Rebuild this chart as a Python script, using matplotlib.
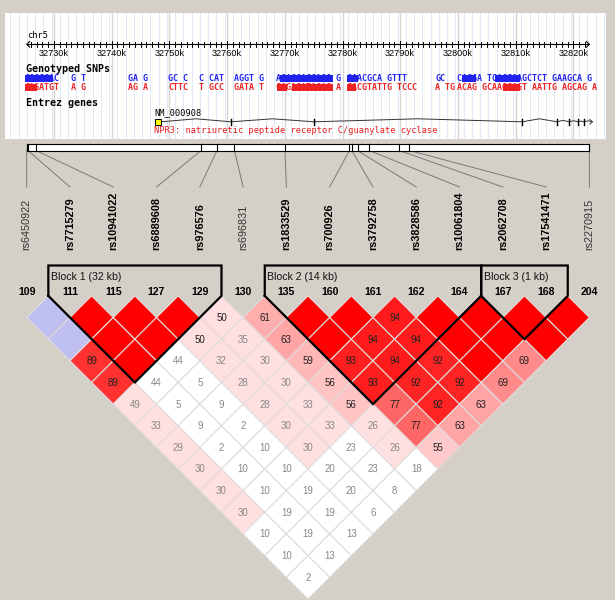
import matplotlib
matplotlib.use("Agg")
import matplotlib.pyplot as plt
from matplotlib.patches import Polygon, Rectangle

# ---------------- data ----------------
snp_names = ["rs6450922", "rs7715279", "rs10941022", "rs6889608", "rs976576",
             "rs696831", "rs1833529", "rs700926", "rs3792758", "rs3828586",
             "rs10061804", "rs2062708", "rs17541471", "rs2270915"]
snp_numbers = [109, 111, 115, 127, 129, 130, 135, 160, 161, 162, 164, 167, 168, 204]
snp_kb = [32725.27, 32725.49, 32726.88, 32755.48, 32758.25, 32761.28, 32770.03,
          32781.19, 32781.61, 32782.61, 32784.66, 32789.82, 32791.59, 32822.79]

# blocks as (first marker, last marker)
blocks = [(1, 4), (6, 10), (11, 12)]

# D' x100, row i holds pairs (i, i+1), (i, i+2), ...
dprime_rows = [
    [100, 100, 89, 89, 49, 33, 29, 30, 30, 30, 10, 10, 2],
    [100, 100, 100, 44, 5, 9, 2, 10, 10, 19, 19, 13],
    [100, 100, 44, 5, 9, 2, 10, 10, 19, 19, 13],
    [100, 50, 32, 28, 28, 30, 30, 20, 20, 6],
    [50, 35, 30, 30, 33, 33, 23, 23, 8],
    [61, 63, 59, 56, 56, 26, 26, 18],
    [100, 100, 93, 93, 77, 77, 55],
    [100, 94, 94, 92, 92, 63],
    [94, 94, 92, 92, 63],
    [100, 100, 100, 69],
    [100, 100, 69],
    [100, 100],
    [100],
]
# 1 = LOD >= 2
lod_rows = [
    [0, 0, 1, 1, 1, 1, 1, 1, 1, 1, 0, 0, 0],
    [1, 1, 1, 0, 0, 0, 0, 0, 0, 0, 0, 0],
    [1, 1, 0, 0, 0, 0, 0, 0, 0, 0, 0],
    [1, 1, 1, 1, 1, 1, 1, 0, 0, 0],
    [1, 1, 1, 1, 1, 1, 0, 0, 0],
    [1, 1, 1, 1, 1, 1, 1, 0],
    [1, 1, 1, 1, 1, 1, 1],
    [1, 1, 1, 1, 1, 1],
    [1, 1, 1, 1, 1],
    [1, 1, 1, 1],
    [1, 1, 1],
    [1, 1],
    [1],
]

# browser track
ruler_ticks_kb = [32730, 32740, 32750, 32760, 32770, 32780, 32790, 32800, 32810, 32820]
allele_top = [(32724.97, "GGCGGAC"), (32732.95, "G T"), (32742.82, "GA G"),
              (32749.76, "GC C"), (32755.13, "C CAT"), (32761.20, "AGGT G"),
              (32768.48, "AGACGACGAGG G"), (32780.78, "GAACGCA GTTT"),
              (32796.04, "GC"), (32799.85, "CAGGA TGACGAAGCTCT GAAGCA G")]
allele_bot = [(32724.97, "GAGATGT"), (32732.95, "A G"), (32742.82, "AG A"),
              (32749.76, "CTTC"), (32755.13, "T GCC"), (32761.20, "GATA T"),
              (32768.48, "CAGAGATAGAG A"), (32780.78, "GACGTATTG TCCC"),
              (32796.04, "A TG"), (32799.85, "ACAG GCAAGCAGT AATTG AGCAG A")]
hilite_top = [(32724.97, 32729.82), (32769.17, 32778.35), (32780.78, 32782.69),
              (32800.72, 32803.15), (32806.36, 32810.69)]
hilite_bot = [(32724.97, 32727.05), (32768.65, 32770.38), (32771.25, 32778.35),
              (32780.78, 32782.34), (32807.75, 32810.69)]
gene_start_kb, gene_utr_end_kb, gene_end_kb = 32747.5, 32748.54, 32823.3
exon_kb = [32760.68, 32775.07, 32811.11, 32817.18, 32819.26, 32820.82, 32821.86]

# ---------------- layout helpers ----------------
BG = "#d4d0c8"
X0, XN = 26.7, 589.4
DX = (XN - X0) / (len(snp_names) - 1)
H = DX / 2
Y1 = 317.5          # centre of first diamond row
BLOCK_TOP = 265.5


def xp(i):
    return X0 + i * DX


def kbpx(kb):
    return 111.7 + (kb - 32740) * 5.77


def cell_color(d, strong):
    d = d / 100.0
    if strong:
        if d < 0.5:
            return (1.0, 224 / 255, 224 / 255)
        g = min(223.0, max(0.0, 223 * 2 * (1 - d))) / 255
        return (1.0, g, g)
    if d > 0.99:
        return (192 / 255, 192 / 255, 240 / 255)
    return (1.0, 1.0, 1.0)


fig = plt.figure(figsize=(6.15, 6.0), dpi=100)
fig.patch.set_facecolor(BG)
ax = fig.add_axes([0, 0, 1, 1])
ax.set_xlim(0, 615)
ax.set_ylim(600, 0)
ax.axis("off")

SANS = ["Liberation Sans", "DejaVu Sans"]
MONO = ["DejaVu Sans Mono"]

# ---------------- browser panel ----------------
ax.add_patch(Rectangle((5, 13), 601, 125.5, facecolor="white", edgecolor="none", zorder=0))
k = 32721.0
while kbpx(k) < 606:
    if kbpx(k) > 5:
        ax.plot([kbpx(k)] * 2, [13, 138.5], color="#d9e6f8", lw=0.6, zorder=1)
    k += 10 / 7
for t in ruler_ticks_kb:
    ax.plot([kbpx(t)] * 2, [13, 138.5], color="#d6d6d6", lw=1.0, zorder=1)

ax.text(27, 35, "chr5", family=MONO, fontsize=6.3, va="center", ha="left", zorder=3)
r0, r1 = snp_kb[0], snp_kb[-1]
ax.plot([kbpx(r0), kbpx(r1)], [44.3, 44.3], color="black", lw=0.8, zorder=3)
ax.plot([kbpx(r0) + 3, kbpx(r0), kbpx(r0) + 3], [41.5, 44.3, 47.1], color="black", lw=0.8, zorder=3)
ax.plot([kbpx(r1) - 3, kbpx(r1), kbpx(r1) - 3], [41.5, 44.3, 47.1], color="black", lw=0.8, zorder=3)
for kk in range(int(r0) + 1, int(r1) + 1):
    big = kk % 10 == 0
    ax.plot([kbpx(kk)] * 2, [40.5 if big else 42.0, 48.3 if big else 46.6],
            color="black", lw=0.7, zorder=3)
for t in ruler_ticks_kb:
    ax.text(kbpx(t), 53, f"{t}k", family=SANS, fontsize=6.6, ha="center", va="center", zorder=3)

ax.text(25.5, 69, "Genotyped SNPs", family=MONO, fontweight="bold", fontsize=7.2,
        va="center", ha="left", zorder=3)
for (a, b) in hilite_top:
    ax.add_patch(Rectangle((kbpx(a), 75), kbpx(b) - kbpx(a), 7, facecolor="#2222ee",
                           edgecolor="none", zorder=2))
for (a, b) in hilite_bot:
    ax.add_patch(Rectangle((kbpx(a), 83.8), kbpx(b) - kbpx(a), 7, facecolor="#ee2222",
                           edgecolor="none", zorder=2))
for kb, s in allele_top:
    ax.text(kbpx(kb), 78.5, s, family=MONO, fontweight="bold", fontsize=6.0,
            color="#2222ee", ha="left", va="center", zorder=3)
for kb, s in allele_bot:
    ax.text(kbpx(kb), 87.3, s, family=MONO, fontweight="bold", fontsize=6.0,
            color="#ee2222", ha="left", va="center", zorder=3)

ax.text(25.5, 102.7, "Entrez genes", family=MONO, fontweight="bold", fontsize=7.2,
        va="center", ha="left", zorder=3)
ax.text(kbpx(gene_start_kb) - 1, 112.7, "NM_000908", family=MONO, fontsize=6.2,
        va="center", ha="left", zorder=3)
# intron chevrons between exon marks
stops = [gene_utr_end_kb] + exon_kb + [gene_end_kb]
gx, gy = [], []
for a, b in zip(stops[:-1], stops[1:]):
    pa, pb = kbpx(a), kbpx(b)
    peak = min(3.0, (pb - pa) * 0.12)
    gx += [pa, (pa + pb) / 2]
    gy += [121.8, 121.8 - peak]
gx.append(kbpx(gene_end_kb))
gy.append(121.8)
ax.plot(gx, gy, color="#333333", lw=0.7, zorder=3)
ax.plot([kbpx(gene_end_kb) - 2.5, kbpx(gene_end_kb), kbpx(gene_end_kb) - 2.5],
        [119.5, 121.8, 124.1], color="#333333", lw=0.7, zorder=3)
for e in exon_kb:
    ax.plot([kbpx(e)] * 2, [118.8, 124.8], color="black", lw=1.0, zorder=4)
ax.add_patch(Rectangle((kbpx(gene_start_kb), 118.5), kbpx(gene_utr_end_kb) - kbpx(gene_start_kb),
                       6.5, facecolor="#ffff00", edgecolor="black", lw=0.7, zorder=4))
ax.text(kbpx(gene_start_kb) - 1, 130.3, "NPR3: natriuretic peptide receptor C/guanylate cyclase",
        family=MONO, fontsize=6.2, color="#e81c1c", va="center", ha="left", zorder=3)

# ---------------- physical position bar ----------------
ax.add_patch(Rectangle((kbpx(r0), 143.5), kbpx(r1) - kbpx(r0), 7, facecolor="white",
                       edgecolor="black", lw=0.8, zorder=3))
for i, kb in enumerate(snp_kb):
    ax.plot([kbpx(kb)] * 2, [143.5, 150.5], color="black", lw=0.8, zorder=4)
    ax.plot([kbpx(kb), xp(i)], [150.5, 187], color="#7a7a7a", lw=0.7, zorder=2)

in_block = [any(a <= i <= b for a, b in blocks) for i in range(len(snp_names))]
for i, name in enumerate(snp_names):
    ax.text(xp(i), 249.5, name, rotation=90, ha="center", va="bottom", family=SANS,
            fontsize=7.8, fontweight="bold" if in_block[i] else "normal",
            color="black" if in_block[i] else "#333333")
    ax.text(xp(i), 292, str(snp_numbers[i]), ha="center", va="center", family=SANS,
            fontsize=7.6, fontweight="bold", color="black", zorder=6)

# ---------------- LD diamonds ----------------
for i, (drow, lrow) in enumerate(zip(dprime_rows, lod_rows)):
    for off, (d, strong) in enumerate(zip(drow, lrow)):
        j = i + off + 1
        cx = (xp(i) + xp(j)) / 2
        cy = Y1 + (j - i - 1) * H
        ax.add_patch(Polygon([(cx, cy - H), (cx + H, cy), (cx, cy + H), (cx - H, cy)],
                             closed=True, facecolor=cell_color(d, strong),
                             edgecolor="#e2dcdc", lw=0.8, zorder=3))
        if d < 100:
            ax.text(cx, cy + 0.5, str(d), ha="center", va="center", family=SANS,
                    fontsize=7.0, color="#222222" if d >= 50 else "#888888", zorder=5)

# ---------------- block outlines ----------------
for a, b in blocks:
    left, right = xp(a) - H, xp(b) + H
    top_row = Y1 - H
    apex = ((xp(a) + xp(b)) / 2, top_row + (right - left) / 2)
    ax.plot([left, left, right, right, apex[0], left],
            [top_row, BLOCK_TOP, BLOCK_TOP, top_row, apex[1], top_row],
            color="black", lw=1.6, solid_joinstyle="miter", zorder=6)
    size = int(snp_kb[b] - snp_kb[a])
    ax.text(left + 2.5, 277, f"Block {blocks.index((a, b)) + 1} ({size} kb)", family=SANS,
            fontsize=7.6, ha="left", va="center", color="#111111", zorder=6)

fig.savefig("out.png", dpi=100, facecolor=BG)
